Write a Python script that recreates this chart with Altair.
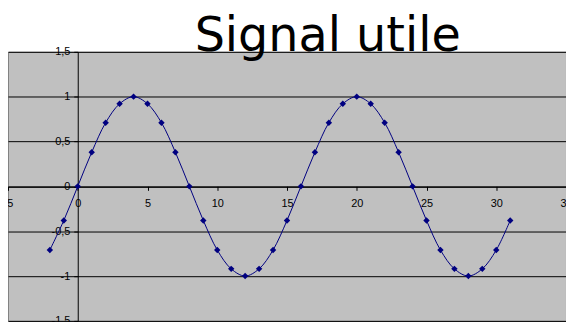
import altair as alt
import pandas as pd

x_vals = list(range(-2, 32))
y_vals = [-0.71, -0.38, 0.0, 0.38, 0.71, 0.92, 1.0, 0.92, 0.71, 0.38,
          0.0, -0.38, -0.71, -0.92, -1.0, -0.92, -0.71, -0.38, 0.0, 0.38,
          0.71, 0.92, 1.0, 0.92, 0.71, 0.38, 0.0, -0.38, -0.71, -0.92,
          -1.0, -0.92, -0.71, -0.38]
title_text = ["Signal utile"]

df = pd.DataFrame({"x": x_vals, "y": y_vals})
tdf = pd.DataFrame({"t": title_text})

W, H = 562, 271
NAVY = "#000080"

xs = alt.Scale(domain=[-5, 35], nice=False, zero=False)
ys = alt.Scale(domain=[-1.5, 1.5], nice=False)

lbl = "replace(toString(datum.value), '.', ',')"

x_enc = alt.X("x:Q", scale=xs, axis=alt.Axis(
    title=None, values=[-5, 0, 5, 10, 15, 20, 25, 30, 35], grid=False,
    offset=-H / 2, domainColor="black", tickColor="black", tickSize=4,
    labelPadding=7, labelFont="Liberation Sans", labelFontSize=11,
    labelColor="black", labelExpr=lbl, labelFlush=False, labelOverlap=False))
y_enc = alt.Y("y:Q", scale=ys, axis=alt.Axis(
    title=None, values=[-1.5, -1, -0.5, 0, 0.5, 1, 1.5], grid=True,
    gridColor="black", gridOpacity=1, gridWidth=1,
    offset=-W * 5 / 40, domainColor="black", tickColor="black", tickSize=4,
    labelPadding=4, labelFont="Liberation Sans", labelFontSize=11,
    labelColor="black", labelExpr=lbl, labelFlush=False, labelOverlap=False))

base = alt.Chart(df)
line = base.mark_line(color=NAVY, strokeWidth=1, interpolate="catmull-rom").encode(x=x_enc, y=y_enc)
pts = base.mark_point(shape="diamond", filled=True, color=NAVY, size=42, opacity=1).encode(x="x:Q", y="y:Q")
title = alt.Chart(tdf).mark_text(
    font="DejaVu Sans", fontSize=48, color="black", align="center",
    baseline="alphabetic").encode(
    text="t:N", x=alt.value(322), y=alt.value(-1))

chart = alt.layer(line, pts, title).properties(
    width=W, height=H,
    autosize=alt.AutoSizeParams(type="none"),
    padding={"left": 0, "top": 43, "right": 0, "bottom": 0},
    background="white",
).configure_view(fill="#C0C0C0", stroke="#808080", strokeWidth=1)

chart.save("out.html", embed_options={"renderer": "svg", "actions": False})
